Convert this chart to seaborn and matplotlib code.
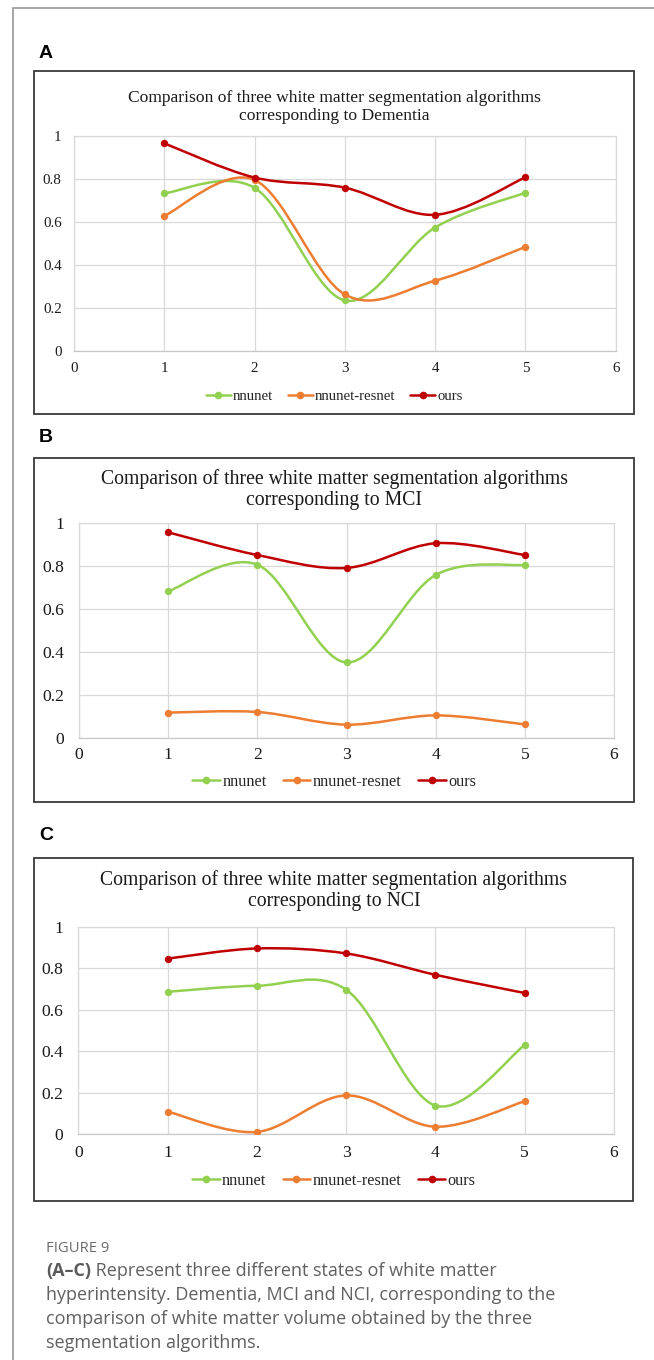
import numpy as np
import pandas as pd
import matplotlib
matplotlib.use("Agg")
import matplotlib.pyplot as plt
import seaborn as sns
from matplotlib.path import Path
from matplotlib.patches import PathPatch, Rectangle
from matplotlib.lines import Line2D

# ---------------- data ----------------
samples = [1, 2, 3, 4, 5]
series_names = ["nnunet", "nnunet-resnet", "ours"]

dementia_nnunet = [0.734, 0.759, 0.236, 0.575, 0.737]
dementia_resnet = [0.629, 0.796, 0.264, 0.328, 0.485]
dementia_ours = [0.966, 0.807, 0.760, 0.634, 0.808]

mci_nnunet = [0.683, 0.807, 0.351, 0.759, 0.806]
mci_resnet = [0.117, 0.120, 0.061, 0.104, 0.062]
mci_ours = [0.958, 0.852, 0.792, 0.907, 0.852]

nci_nnunet = [0.686, 0.715, 0.696, 0.137, 0.429]
nci_resnet = [0.108, 0.010, 0.186, 0.035, 0.158]
nci_ours = [0.846, 0.895, 0.871, 0.768, 0.680]

x_ticks = [0, 1, 2, 3, 4, 5, 6]
y_ticks = [0, 0.2, 0.4, 0.6, 0.8, 1.0]
y_tick_labels = ["0", "0.2", "0.4", "0.6", "0.8", "1"]

panel_letters = ["A", "B", "C"]
panel_titles = [
    "Comparison of three white matter segmentation algorithms\ncorresponding to Dementia",
    "Comparison of three white matter segmentation algorithms\ncorresponding to MCI",
    "Comparison of three white matter segmentation algorithms\ncorresponding to NCI",
]
panel_data = [
    [dementia_nnunet, dementia_resnet, dementia_ours],
    [mci_nnunet, mci_resnet, mci_ours],
    [nci_nnunet, nci_resnet, nci_ours],
]

caption_head = "FIGURE 9"
caption_bold = "(A\u2013C)"
caption_lines = [
    " Represent three different states of white matter",
    "hyperintensity. Dementia, MCI and NCI, corresponding to the",
    "comparison of white matter volume obtained by the three",
    "segmentation algorithms.",
]

colors = ["#92D050", "#ED7D31", "#C00000"]

# ---------------- layout (pixels) ----------------
W, H = 654, 1360
layout = [
    dict(box=(34.3, 71, 634, 414), plot=(74, 136, 615.7, 351.3), title_y=107.0, letter_y=54,
         ypad=12.3, xpad=10.5, leg_y=396, fs_title=12.6, fs_tick=10.8, fs_leg=10.6),
    dict(box=(34.3, 458.3, 634, 802), plot=(79, 523.3, 614, 737.7), title_y=489.5, letter_y=438,
         ypad=14.7, xpad=9.5, leg_y=782, fs_title=14.2, fs_tick=12.6, fs_leg=11.7),
    dict(box=(34.3, 858, 633.5, 1200.7), plot=(78.3, 926.7, 614, 1134), title_y=890.5, letter_y=835,
         ypad=14.7, xpad=11, leg_y=1180.7, fs_title=14.2, fs_tick=12.6, fs_leg=11.7),
]

sns.set_theme(style="white")
plt.rcParams["font.family"] = ["Liberation Serif", "DejaVu Serif"]

fig = plt.figure(figsize=(W / 100, H / 100), dpi=100)
fig.patch.set_facecolor("white")


def fx(px):
    return px / W


def fy(py):
    return 1 - py / H


def smooth_path(xs, ys):
    P = np.column_stack([xs, ys]).astype(float)
    n = len(P)
    verts = [P[0]]
    codes = [Path.MOVETO]
    for i in range(n - 1):
        p_prev = P[i - 1] if i > 0 else P[i]
        p_next = P[i + 2] if i + 2 < n else P[i + 1]
        c1 = P[i] + (P[i + 1] - p_prev) / 6.0
        c2 = P[i + 1] - (p_next - P[i]) / 6.0
        verts += [c1, c2, P[i + 1]]
        codes += [Path.CURVE4] * 3
    return Path(verts, codes)


# outer frame (page border)
fig.add_artist(Line2D([fx(12.5), fx(12.5)], [fy(7.5), 0], color="#a0a0a0", lw=1.3,
                      transform=fig.transFigure))
fig.add_artist(Line2D([fx(12.5), 1.0], [fy(7.5), fy(7.5)], color="#a0a0a0", lw=1.3,
                      transform=fig.transFigure))

for k in range(3):
    L = layout[k]
    bx0, by0, bx1, by1 = L["box"]
    fig.add_artist(Rectangle((fx(bx0), fy(by1)), fx(bx1) - fx(bx0), fy(by0) - fy(by1),
                             transform=fig.transFigure, fill=False, edgecolor="#3a3a3a", lw=1.3))
    fig.text(fx(39), fy(L["letter_y"]), panel_letters[k], fontsize=14, fontweight="bold",
             family=["Liberation Sans", "DejaVu Sans"], ha="left", va="center", color="black")
    fig.text(fx((bx0 + bx1) / 2), fy(L["title_y"]), panel_titles[k], fontsize=L["fs_title"],
             ha="center", va="center", color="#1a1a1a", linespacing=1.15)

    px0, py0, px1, py1 = L["plot"]
    ax = fig.add_axes([fx(px0), fy(py1), fx(px1) - fx(px0), fy(py0) - fy(py1)])
    ax.set_xlim(0, 6)
    ax.set_ylim(0, 1)
    ax.set_xticks(x_ticks)
    ax.set_xticklabels([str(v) for v in x_ticks])
    ax.set_yticks(y_ticks)
    ax.set_yticklabels(y_tick_labels)
    ax.grid(True, color="#d9d9d9", lw=0.9)
    ax.set_axisbelow(True)
    for s in ax.spines.values():
        s.set_color("#d9d9d9")
        s.set_linewidth(0.9)
    ax.spines["bottom"].set_color("#c8c8c8")
    ax.tick_params(axis="y", length=0, pad=L["ypad"] * 0.72, labelsize=L["fs_tick"],
                   labelcolor="#1a1a1a")
    ax.tick_params(axis="x", length=0, pad=L["xpad"] * 0.72, labelsize=L["fs_tick"],
                   labelcolor="#1a1a1a")

    vals = panel_data[k]
    rows = []
    for name, ys in zip(series_names, vals):
        for xv, yv in zip(samples, ys):
            rows.append(dict(sample=xv, value=yv, method=name))
    df = pd.DataFrame(rows)

    for j, name in enumerate(series_names):
        sub = df[df["method"] == name]
        patch = PathPatch(smooth_path(sub["sample"].values, sub["value"].values),
                          facecolor="none", edgecolor=colors[j], lw=1.8, zorder=3 + j,
                          capstyle="round", joinstyle="round")
        ax.add_patch(patch)
        sns.scatterplot(data=sub, x="sample", y="value", color=colors[j], s=28,
                        edgecolor=colors[j], linewidth=0, ax=ax, zorder=3.5 + j, legend=False)
    ax.set_xlabel("")
    ax.set_ylabel("")

    handles = [Line2D([0], [0], color=c, lw=1.8, marker="o", markersize=5.5,
                      markeredgewidth=0) for c in colors]
    fig.legend(handles, series_names, loc="center", ncol=3, frameon=False,
               bbox_to_anchor=(fx((bx0 + bx1) / 2), fy(L["leg_y"])),
               fontsize=L["fs_leg"], handlelength=1.7, handletextpad=0.15,
               columnspacing=1.0, borderaxespad=0, borderpad=0)

# caption
cap_family = ["Open Sans", "DejaVu Sans"]
cap_fs = 13.0
fig.text(fx(46), fy(1249), caption_head, fontsize=10.6, color="#6a6a6a", family=cap_family,
         ha="left", va="center")
line_y = [1271, 1295, 1319, 1343]
renderer = fig.canvas.get_renderer()
tb = fig.text(fx(46), fy(line_y[0]), caption_bold, fontsize=cap_fs, color="#5a5a5a",
              family=cap_family, fontweight="bold", ha="left", va="center")
bb = tb.get_window_extent(renderer=renderer)
fig.text(bb.x1 / (fig.dpi * fig.get_figwidth()), fy(line_y[0]), caption_lines[0], fontsize=cap_fs,
         color="#606060", family=cap_family, ha="left", va="center")
for i in range(1, 4):
    fig.text(fx(46), fy(line_y[i]), caption_lines[i], fontsize=cap_fs, color="#606060",
             family=cap_family, ha="left", va="center")

fig.savefig("out.png", dpi=100, facecolor="white")
